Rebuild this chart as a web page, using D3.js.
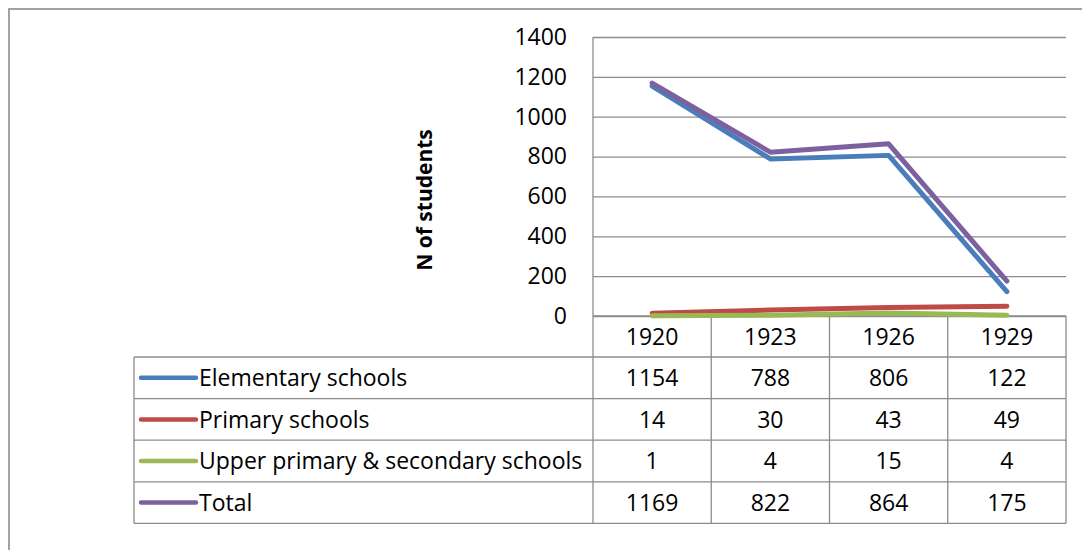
<!DOCTYPE html>
<html>
<head>
<meta charset="utf-8">
<script src="https://cdn.jsdelivr.net/npm/d3@7/dist/d3.min.js"></script>
<style>
  html, body { margin: 0; padding: 0; background: #fff; }
  svg { display: block; }
  text { font-family: "Open Sans", Lato, sans-serif; fill: #000; }
</style>
</head>
<body>
<svg id="chart" width="1082" height="550"></svg>
<script>
// Enrolment by school type
const years = ["1920", "1923", "1926", "1929"];
const seriesNames = ["Elementary schools", "Primary schools", "Upper primary & secondary schools", "Total"];
const elementary = [1154, 788, 806, 122];
const primary = [14, 30, 43, 49];
const upperSecondary = [1, 4, 15, 4];
const total = [1169, 822, 864, 175];
const yTicks = [0, 200, 400, 600, 800, 1000, 1200, 1400];
const colors = ["#4A7EBB", "#BE4B48", "#98B954", "#7D60A0"];

const seriesValues = [elementary, primary, upperSecondary, total];
const series = seriesNames.map((name, i) => ({ name, color: colors[i], values: seriesValues[i] }));

const svg = d3.select("#chart");
const gridColor = "#8c8c8c";
const fontFamily = "'Open Sans', Lato, sans-serif";
const fontSize = 23;

// plot geometry
const plot = { left: 593, right: 1066, top: 37, bottom: 316 };
const tableLeft = 134;
const rowH = 41.6;
const headerBottom = 357;

const x = d3.scaleBand().domain(years).range([plot.left, plot.right]).padding(0);
const y = d3.scaleLinear().domain([0, 1400]).range([plot.bottom, plot.top]);

// outer chart frame
svg.append("rect")
  .attr("x", 9).attr("y", 9)
  .attr("width", 1200).attr("height", 700)
  .attr("fill", "none").attr("stroke", gridColor).attr("stroke-width", 1.6);

// horizontal gridlines and value labels
const yAxis = d3.axisLeft(y).tickValues(yTicks).tickFormat(d3.format("d"))
  .tickSize(-(plot.right - plot.left)).tickPadding(26);
const gy = svg.append("g").attr("transform", `translate(${plot.left},0)`).call(yAxis);
gy.select(".domain").remove();
gy.selectAll(".tick line").attr("stroke", gridColor).attr("stroke-width", 1.3);
gy.selectAll(".tick text")
  .attr("font-size", fontSize)
  .attr("font-family", fontFamily)
  .attr("fill", "#000");

// vertical axis line
svg.append("line")
  .attr("x1", plot.left).attr("x2", plot.left)
  .attr("y1", plot.top).attr("y2", plot.bottom)
  .attr("stroke", gridColor).attr("stroke-width", 1.3);

// axis title
svg.append("text")
  .attr("transform", "translate(432,200) rotate(-90)")
  .attr("text-anchor", "middle")
  .attr("font-size", 21)
  .attr("font-weight", "bold")
  .text("N of students");

// data table grid
const tableBottom = headerBottom + rowH * series.length;
const tg = svg.append("g").attr("stroke", gridColor).attr("stroke-width", 1.3).attr("fill", "none");
// year column boundaries
years.forEach(yr => {
  tg.append("line").attr("x1", x(yr)).attr("x2", x(yr)).attr("y1", plot.bottom).attr("y2", tableBottom);
});
tg.append("line").attr("x1", plot.right).attr("x2", plot.right).attr("y1", plot.bottom).attr("y2", tableBottom);
tg.append("line").attr("x1", plot.left).attr("x2", plot.right).attr("y1", plot.bottom).attr("y2", plot.bottom);
// row boundaries
for (let i = 0; i <= series.length; i++) {
  const yy = headerBottom + rowH * i;
  tg.append("line").attr("x1", tableLeft).attr("x2", plot.right).attr("y1", yy).attr("y2", yy);
}
tg.append("line").attr("x1", tableLeft).attr("x2", tableLeft).attr("y1", headerBottom).attr("y2", tableBottom);

// header years
svg.append("g").selectAll("text").data(years).join("text")
  .attr("x", d => x(d) + x.bandwidth() / 2)
  .attr("y", (plot.bottom + headerBottom) / 2)
  .attr("dy", "0.36em")
  .attr("text-anchor", "middle")
  .attr("font-size", fontSize)
  .text(d => d);

// table rows: legend key, name, values
const rows = svg.append("g").selectAll("g").data(series).join("g")
  .attr("transform", (d, i) => `translate(0,${headerBottom + rowH * i + rowH / 2})`);
rows.append("line")
  .attr("x1", 141).attr("x2", 196).attr("y1", 0).attr("y2", 0)
  .attr("stroke", d => d.color).attr("stroke-width", 4.5).attr("stroke-linecap", "round");
rows.append("text")
  .attr("x", 199).attr("dy", "0.36em")
  .attr("font-size", fontSize)
  .text(d => d.name);
rows.each(function(d) {
  d3.select(this).selectAll("text.val").data(d.values).join("text")
    .attr("class", "val")
    .attr("x", (v, j) => x(years[j]) + x.bandwidth() / 2)
    .attr("dy", "0.36em")
    .attr("text-anchor", "middle")
    .attr("font-size", fontSize)
    .text(v => v);
});

// series lines
const line = d3.line()
  .x((v, j) => x(years[j]) + x.bandwidth() / 2)
  .y(v => y(v));
svg.append("g").selectAll("path").data(series).join("path")
  .attr("d", d => line(d.values))
  .attr("fill", "none")
  .attr("stroke", d => d.color)
  .attr("stroke-width", 5)
  .attr("stroke-linecap", "round")
  .attr("stroke-linejoin", "round");
</script>
</body>
</html>
